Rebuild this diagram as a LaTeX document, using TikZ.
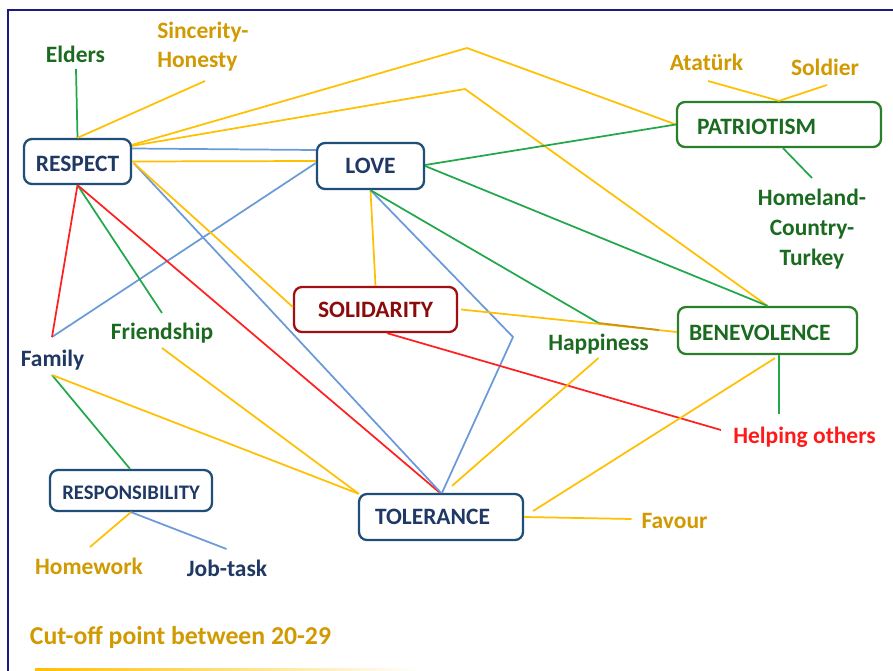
\documentclass[tikz,border=0pt]{standalone}
\usepackage{fontspec}
\setmainfont{Carlito}
\usetikzlibrary{calc}
\definecolor{navy}{HTML}{1F3864}
\definecolor{boxblue}{HTML}{1F4E79}
\definecolor{dgreen}{HTML}{1A6B1F}
\definecolor{boxgreen}{HTML}{2A7F2A}
\definecolor{gold}{HTML}{D09A00}
\definecolor{dred}{HTML}{8B0A0A}
\definecolor{boxred}{HTML}{A01010}
\definecolor{lyellow}{HTML}{FFC000}
\definecolor{dyellow}{HTML}{C89214}
\definecolor{lblue}{HTML}{6A9BD8}
\definecolor{lgreen}{HTML}{22A84A}
\definecolor{lred}{HTML}{FF2020}
\definecolor{hred}{HTML}{FF1A1A}
\definecolor{framec}{HTML}{1A1A80}
\tikzset{
  box/.style={draw, rounded corners=6pt, line width=1.7pt, inner sep=0pt,
    font=\fontsize{17.6}{21}\selectfont\bfseries},
  lower/.style={text height=15pt, text depth=0pt},
  lbl/.style={inner sep=0pt, anchor=base, font=\fontsize{17.6}{21.75}\selectfont\bfseries},
  yl/.style={draw=lyellow, line width=1.3pt},
  dyl/.style={draw=dyellow, line width=1.3pt},
  bl/.style={draw=lblue, line width=1.3pt},
  gl/.style={draw=lgreen, line width=1.3pt},
  rl/.style={draw=lred, line width=1.3pt},
}
\begin{document}
\begin{tikzpicture}[x=0.75pt,y=-0.75pt]
\useasboundingbox (0,0) rectangle (893,671);
\fill[white] (0,0) rectangle (893,671);
\draw[framec, line width=1.6pt] (8,675) -- (8,10) -- (897,10);
\shade[left color=lyellow, right color=white] (35,668.5) rectangle (420,671);

% boxes
\node[box, lower, draw=boxblue, text=navy, minimum width=80.25pt, minimum height=33.75pt] (respect) at (77.5,161.5) {RESPECT};
\node[box, draw=boxblue, text=navy, minimum width=80.25pt, minimum height=34.5pt] (love) at (370.5,166) {LOVE};
\node[box, draw=boxred, text=dred, minimum width=122.25pt, minimum height=33.75pt] (solid) at (375.5,309.5) {SOLIDARITY};
\node[box, lower, draw=boxgreen, text=dgreen, minimum height=33.75pt, text width=123pt, align=left, inner xsep=15pt] (patr) at (779,124.5) {PATRIOTISM};
\node[box, lower, draw=boxgreen, text=dgreen, minimum height=35.25pt, text width=117.75pt, align=left, inner xsep=8.25pt] (bene) at (767.5,330.5) {BENEVOLENCE};
\node[box, draw=boxblue, text=navy, minimum height=34.5pt, text width=99pt, align=left, inner xsep=12pt] (tol) at (441,517) {TOLERANCE};
\node[box, draw=boxblue, text=navy, minimum width=121.5pt, minimum height=30.75pt, text height=13.5pt, text depth=0pt, font=\fontsize{15.5}{19}\selectfont\bfseries] (resp) at (131,490.5) {RESPONSIBILITY};

% labels
\node[lbl, text=dgreen] (elders) at (75.5,62) {Elders};
\node[lbl, text=gold, anchor=north west, align=left] (sinc) at (157,22) {Sincerity-\\Honesty};
\node[lbl, text=gold] (atat) at (706.5,70) {Atatürk};
\node[lbl, text=gold] (soldier) at (825,75) {Soldier};
\node[lbl, text=dgreen, anchor=north, align=center, font=\fontsize{17.6}{22.5}\selectfont\bfseries] (home) at (812,189) {Homeland-\\Country-\\Turkey};
\node[lbl, text=dgreen] (friend) at (162,339) {Friendship};
\node[lbl, text=navy] (family) at (52.5,366) {Family};
\node[lbl, text=dgreen] (happy) at (598.5,350) {Happiness};
\node[lbl, text=hred] (helping) at (804.5,443) {Helping others};
\node[lbl, text=gold] (favour) at (674.5,528) {Favour};
\node[lbl, text=gold] (homework) at (89,574) {Homework};
\node[lbl, text=navy] (job) at (227,576) {Job-task};
\node[lbl, text=gold, font=\fontsize{19.3}{23}\selectfont\bfseries] (cutoff) at (180.5,644) {Cut-off point between 20-29};

\coordinate (p1) at (467,48);
\coordinate (p2) at (465,89);
\coordinate (b1) at (513,337);

% connectors
\draw[gl] ($(elders.base)+(0.5,7)$) -- (respect.north);
\draw[yl] ($(sinc.north west)+(48,59)$) -- (respect.north);
\draw[yl] ($(respect.north east)+(0,7)$) -- (p1) -- (patr.west);
\draw[yl] ($(respect.north east)+(0,8)$) -- (p2) -- (bene.north);
\draw[bl] ($(respect.east)+(0,-13)$) -- ($(love.west)+(0,-16)$);
\draw[yl] (respect.east) -- ($(love.west)+(0,-5)$);
\draw[bl] ($(love.west)+(0,-3)$) -- ($(family.base)+(-0.5,-29)$);
\draw[rl] (respect.south) -- ($(family.base)+(-0.5,-29)$);
\draw[gl] (respect.south) -- ($(friend.base)+(0,-26)$);
\draw[rl] (respect.south) -- ($(tol.north)+(-1,0)$);
\draw[bl] ($(respect.east)+(1.5,1.5)$) -- (tol.north);
\draw[yl] ($(respect.east)+(1.5,1.5)$) -- ($(solid.west)+(0,-2.5)$);
\draw[yl] (love.south) -- (solid.north);
\draw[bl] (love.south) -- (b1) -- ($(tol.north)+(1,0)$);
\draw[gl] (love.south) -- ($(happy.base)+(0,-27)$);
\draw[gl] ($(love.east)+(0,-1)$) -- (patr.west);
\draw[gl] (love.east) -- (bene.north);
\draw[yl] ($(solid.east)+(3,0)$) -- ($(bene.west)+(0,1.5)$);
\draw[dyl] ($(happy.base)+(0,-27)$) -- ($(bene.west)+(-18,-0.5)$);
\draw[rl] ($(solid.south)+(11.5,0)$) -- ($(helping.base)+(-83.5,-13)$);
\draw[yl] ($(happy.base)+(0,8)$) -- ($(tol.north)+(11,-7)$);
\draw[yl] ($(bene.south)+(7.5,3)$) -- ($(tol.east)+(9,-6)$);
\draw[gl] ($(bene.south)+(11.5,0)$) -- ($(helping.base)+(-25.5,-29)$);
\draw[yl] (tol.east) -- ($(favour.base)+(-43,-9)$);
\draw[yl] ($(atat.base)+(1.5,11)$) -- (patr.north);
\draw[yl] ($(soldier.base)+(2,10)$) -- (patr.north);
\draw[gl] ($(patr.south)+(4,0)$) -- ($(home.north)+(0,-11)$);
\draw[gl] ($(family.base)+(-0.5,9)$) -- ($(resp.north)+(-1,0)$);
\draw[yl] ($(family.base)+(-0.5,9)$) -- ($(tol.north west)+(1,1)$);
\draw[yl] ($(friend.base)+(0,9)$) -- ($(tol.north west)+(1,1)$);
\draw[yl] (resp.south) -- ($(homework.base)+(1,-27)$);
\draw[bl] (resp.south) -- ($(job.base)+(-0.5,-27)$);
\end{tikzpicture}
\end{document}
